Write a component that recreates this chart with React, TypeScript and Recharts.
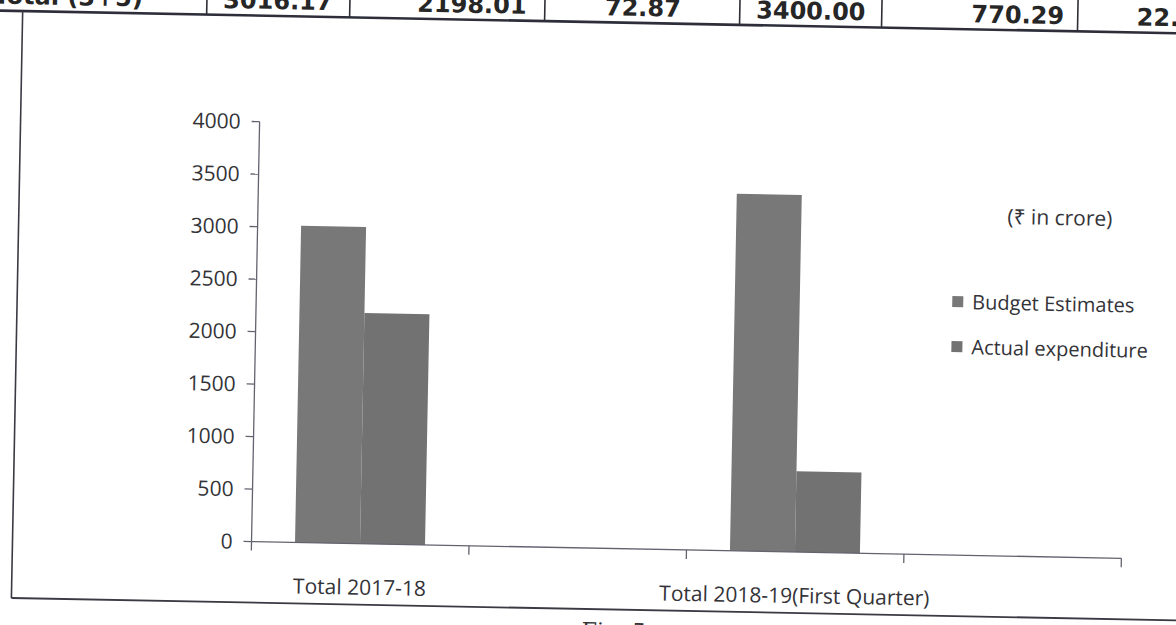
import React from 'react';
import { BarChart, Bar, XAxis, YAxis } from 'recharts';

// values (₹ in crore)
const categories = ['Total 2017-18', '', 'Total 2018-19(First Quarter)', ''];
const budgetEstimates = [3016.17, null, 3400.0, null];
const actualExpenditure = [2198.01, null, 770.29, null];
const yTicks = [0, 500, 1000, 1500, 2000, 2500, 3000, 3500, 4000];
const seriesNames = ['Budget Estimates', 'Actual expenditure'];
const seriesColors = ['#787878', '#727272'];
const unitNote = '(₹ in crore)';
const tableRowLabel = 'Total (3+5)';

const data = categories.map((name, i) => ({
  name,
  budget: budgetEstimates[i],
  actual: actualExpenditure[i],
}));

const W = 1176;
const H = 625;
const MARGIN = { top: 128, right: 50, bottom: 17, left: 176 };
const Y_AXIS_W = 80;
const X_AXIS_H = 60;
const PLOT_W = W - MARGIN.left - MARGIN.right - Y_AXIS_W;
const BAND = PLOT_W / categories.length;

const AXIS = '#62636f';
const TEXT = '#333338';
const FONT = '"Open Sans", "Noto Sans", sans-serif';

const CategoryTick = (props: any) => {
  const { x, y, payload, index } = props;
  const half = BAND / 2;
  return (
    <g>
      {index === 0 && (
        <line x1={x - half} y1={y} x2={x - half} y2={y + 9} stroke={AXIS} strokeWidth={1.3} />
      )}
      <line x1={x + half} y1={y} x2={x + half} y2={y + 9} stroke={AXIS} strokeWidth={1.3} />
      <text x={x} y={y + 51} textAnchor="middle" fontSize={21} fontFamily={FONT} fill={TEXT}>
        {payload.value}
      </text>
    </g>
  );
};

// the table row above the figure, rebuilt from the same numbers
const pct = (a: number, b: number) => ((a / b) * 100).toFixed(2);
const tableCells = [
  { text: tableRowLabel, x: 137, anchor: 'end' },
  { text: budgetEstimates[0]!.toFixed(2), x: 272, anchor: 'middle' },
  { text: actualExpenditure[0]!.toFixed(2), x: 466, anchor: 'middle' },
  { text: pct(actualExpenditure[0]!, budgetEstimates[0]!), x: 637, anchor: 'middle' },
  { text: budgetEstimates[2]!.toFixed(2), x: 805, anchor: 'middle' },
  { text: actualExpenditure[2]!.toFixed(2), x: 1012, anchor: 'middle' },
  { text: pct(actualExpenditure[2]!, budgetEstimates[2]!), x: 1131, anchor: 'start' },
];
const cellLines = [201, 344, 539, 734, 876, 1072];

export default function App() {
  return (
    <div
      style={{
        position: 'fixed',
        left: 0,
        top: 0,
        width: W,
        height: H,
        overflow: 'hidden',
        background: '#ffffff',
      }}
    >
      <div
        style={{
          position: 'absolute',
          left: 0,
          top: 0,
          width: W,
          height: H,
          transform: 'rotate(1.1deg)',
          transformOrigin: '588px 312px',
        }}
      >
        <div style={{ position: 'absolute', left: 0, top: 0 }}>
          <BarChart
            width={W}
            height={H}
            data={data}
            margin={MARGIN}
            barCategoryGap="20%"
            barGap={0}
          >
            <XAxis
              dataKey="name"
              height={X_AXIS_H}
              interval={0}
              tickLine={false}
              tickSize={0}
              tickMargin={0}
              axisLine={{ stroke: AXIS, strokeWidth: 1.3 }}
              tick={<CategoryTick />}
            />
            <YAxis
              width={Y_AXIS_W}
              domain={[0, 4000]}
              ticks={yTicks}
              interval={0}
              tickSize={8}
              tickMargin={11}
              axisLine={{ stroke: AXIS, strokeWidth: 1.3 }}
              tickLine={{ stroke: AXIS, strokeWidth: 1.3 }}
              tick={{ fontSize: 21, fontFamily: FONT, fill: TEXT }}
            />
            <Bar dataKey="budget" name={seriesNames[0]} fill={seriesColors[0]} isAnimationActive={false} />
            <Bar dataKey="actual" name={seriesNames[1]} fill={seriesColors[1]} isAnimationActive={false} />
          </BarChart>
        </div>

        <svg
          width={W}
          height={H}
          style={{ position: 'absolute', left: 0, top: 0, overflow: 'visible', pointerEvents: 'none' }}
        >
          {/* table row cut off at the top of the scan */}
          {cellLines.map((x) => (
            <line key={x} x1={x} y1={-30} x2={x} y2={22} stroke="#2e2e36" strokeWidth={1.6} />
          ))}
          <line x1={-30} y1={22} x2={W + 30} y2={22} stroke="#2e2e3a" strokeWidth={2.6} />
          {tableCells.map((c) => (
            <text
              key={c.text}
              x={c.x}
              y={15}
              textAnchor={c.anchor as any}
              fontSize={24}
              fontWeight="bold"
              fontFamily='"DejaVu Sans", sans-serif'
              fill="#262626"
            >
              {c.text}
            </text>
          ))}

          {/* chart area border */}
          <line x1={17} y1={22} x2={17} y2={609} stroke="#3a3a44" strokeWidth={1.6} />
          <line x1={17} y1={609} x2={W + 30} y2={609} stroke="#3a3a44" strokeWidth={1.8} />

          {/* unit note and legend */}
          <text x={1058} y={216} textAnchor="middle" fontSize={21} fontFamily={FONT} fill={TEXT}>
            {unitNote}
          </text>
          {seriesNames.map((name, i) => (
            <g key={name}>
              <rect x={952} y={289 + i * 45} width={11} height={11} fill={seriesColors[i]} />
              <text x={972} y={302 + i * 45} fontSize={20} fontFamily={FONT} fill={TEXT}>
                {name}
              </text>
            </g>
          ))}

          <text x={620} y={638} textAnchor="middle" fontSize={22} fontFamily='"DejaVu Serif", serif' fill="#333">
            Fig. 5
          </text>
        </svg>
      </div>
    </div>
  );
}
